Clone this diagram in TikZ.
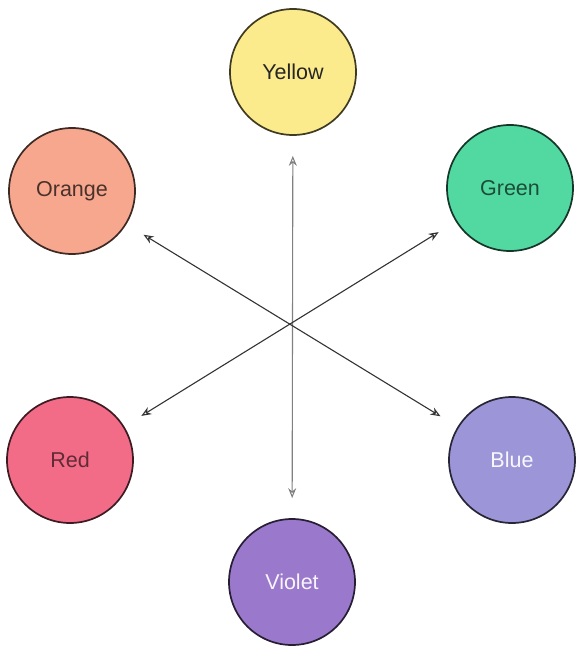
\documentclass[tikz,border=0pt]{standalone}
\usepackage{fontspec}
\setmainfont{Liberation Sans}
\usetikzlibrary{arrows.meta}
\definecolor{cYellow}{HTML}{FBEB8C}
\definecolor{cOrange}{HTML}{F8A78F}
\definecolor{cGreen}{HTML}{52D9A2}
\definecolor{cRed}{HTML}{F26C88}
\definecolor{cBlue}{HTML}{9C96D8}
\definecolor{cViolet}{HTML}{9A78CC}
\tikzset{
  hue/.style={circle, draw=#1!25!black, line width=1.7pt, fill=#1, minimum size=126pt, inner sep=0pt,
    font=\fontsize{21.5}{25}\selectfont},
  conn/.style={line width=1.1pt, draw=black!80, {Stealth[open,length=10pt,width=8pt]}-{Stealth[open,length=10pt,width=8pt]},
    shorten <=20pt, shorten >=20pt},
}
\begin{document}
\begin{tikzpicture}[x=1pt,y=-1pt]
\useasboundingbox (0,0) rectangle (576,650);
\node[hue=cYellow, text=black!85] (yellow) at (293,72) {Yellow};
\node[hue=cOrange, text=cOrange!30!black] (orange) at (72,191) {Orange};
\node[hue=cGreen, text=cGreen!35!black] (green) at (510,188) {Green};
\node[hue=cRed, text=cRed!40!black] (red) at (70,460) {Red};
\node[hue=cBlue, text=white!92!cBlue] (blue) at (512,460) {Blue};
\node[hue=cViolet, text=white!92!cViolet] (violet) at (292,582) {Violet};
\draw[conn, draw=black!50] (yellow) -- (violet);
\draw[conn] (orange) -- (blue);
\draw[conn] (red) -- (green);
\end{tikzpicture}
\end{document}
